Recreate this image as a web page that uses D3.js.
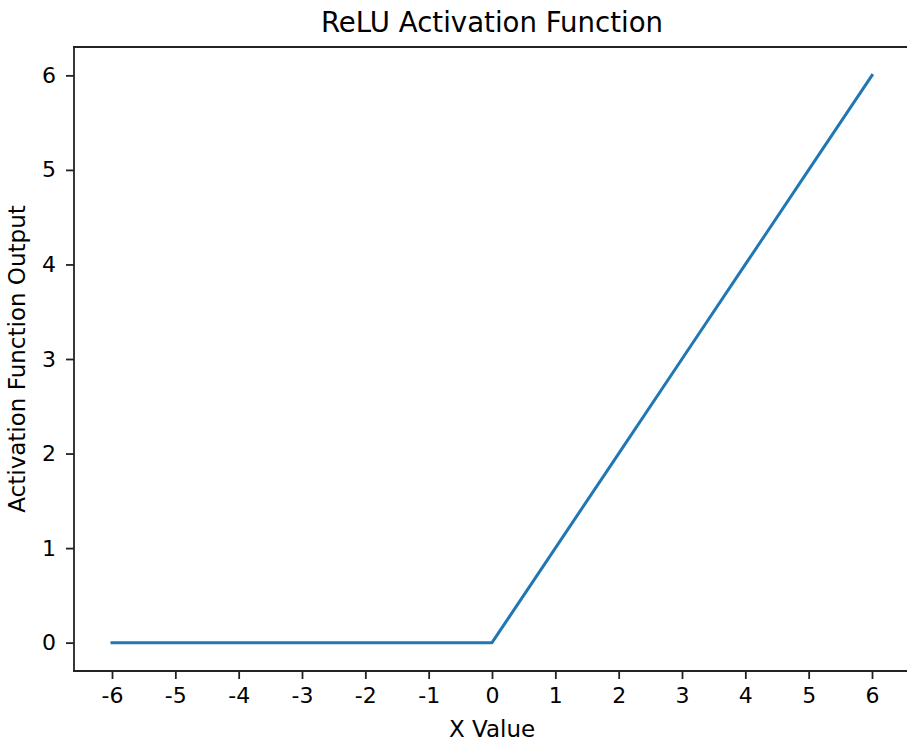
<!DOCTYPE html>
<html>
<head>
<meta charset="utf-8">
<script src="https://cdn.jsdelivr.net/npm/d3@7"></script>
<style>
  html, body { margin: 0; padding: 0; background: #fff; overflow: hidden; }
  svg { display: block; }
  text { font-family: "DejaVu Sans", sans-serif; fill: #000; }
</style>
</head>
<body>
<svg id="chart" width="907" height="742"></svg>
<script>
const xValues = [-6, -5, -4, -3, -2, -1, 0, 1, 2, 3, 4, 5, 6];
const yValues = [0, 0, 0, 0, 0, 0, 0, 1, 2, 3, 4, 5, 6];
const xTicks = [-6, -5, -4, -3, -2, -1, 0, 1, 2, 3, 4, 5, 6];
const yTicks = [0, 1, 2, 3, 4, 5, 6];
const titleText = "ReLU Activation Function";
const xLabelText = "X Value";
const yLabelText = "Activation Function Output";

const svg = d3.select("#chart");
const plot = { left: 74, right: 910, top: 47, bottom: 671 };

const x = d3.scaleLinear().domain([-6.6, 6.6]).range([plot.left, plot.right]);
const y = d3.scaleLinear().domain([-0.3, 6.3]).range([plot.bottom, plot.top]);

const tickFmt = d => String(d);

// X axis
const xAxis = svg.append("g")
  .attr("transform", `translate(0,${plot.bottom})`)
  .call(d3.axisBottom(x).tickValues(xTicks).tickFormat(tickFmt).tickSize(8).tickPadding(8).tickSizeOuter(0));
xAxis.select(".domain").remove();
xAxis.selectAll(".tick line").attr("stroke", "#222").attr("stroke-width", 1.8);
xAxis.selectAll(".tick text").attr("font-size", 22).attr("fill", "#000")
  .attr("font-family", "DejaVu Sans");

// Y axis
const yAxis = svg.append("g")
  .attr("transform", `translate(${plot.left},0)`)
  .call(d3.axisLeft(y).tickValues(yTicks).tickFormat(tickFmt).tickSize(8).tickPadding(10).tickSizeOuter(0));
yAxis.select(".domain").remove();
yAxis.selectAll(".tick line").attr("stroke", "#222").attr("stroke-width", 1.8);
yAxis.selectAll(".tick text").attr("font-size", 22).attr("fill", "#000")
  .attr("font-family", "DejaVu Sans");

// Spines (right spine lies beyond the visible canvas)
const spines = [
  [plot.left, plot.top, plot.left, plot.bottom],
  [plot.left, plot.top, plot.right, plot.top],
  [plot.left, plot.bottom, plot.right, plot.bottom]
];
svg.append("g").selectAll("line").data(spines).join("line")
  .attr("x1", d => d[0]).attr("y1", d => d[1])
  .attr("x2", d => d[2]).attr("y2", d => d[3])
  .attr("stroke", "#222").attr("stroke-width", 1.8).attr("stroke-linecap", "square");

// Line
const data = xValues.map((d, i) => ({ x: d, y: yValues[i] }));
svg.append("path")
  .datum(data)
  .attr("fill", "none")
  .attr("stroke", "#1f77b4")
  .attr("stroke-width", 3)
  .attr("stroke-linejoin", "round")
  .attr("stroke-linecap", "square")
  .attr("d", d3.line().x(d => x(d.x)).y(d => y(d.y)));

// Title
svg.append("text")
  .attr("x", (plot.left + plot.right) / 2).attr("y", 32)
  .attr("text-anchor", "middle").attr("font-size", 27.6)
  .text(titleText);

// X label
svg.append("text")
  .attr("x", (plot.left + plot.right) / 2).attr("y", 737)
  .attr("text-anchor", "middle").attr("font-size", 23)
  .text(xLabelText);

// Y label
svg.append("text")
  .attr("transform", `translate(25,${(plot.top + plot.bottom) / 2}) rotate(-90)`)
  .attr("text-anchor", "middle").attr("font-size", 23)
  .text(yLabelText);
</script>
</body>
</html>
